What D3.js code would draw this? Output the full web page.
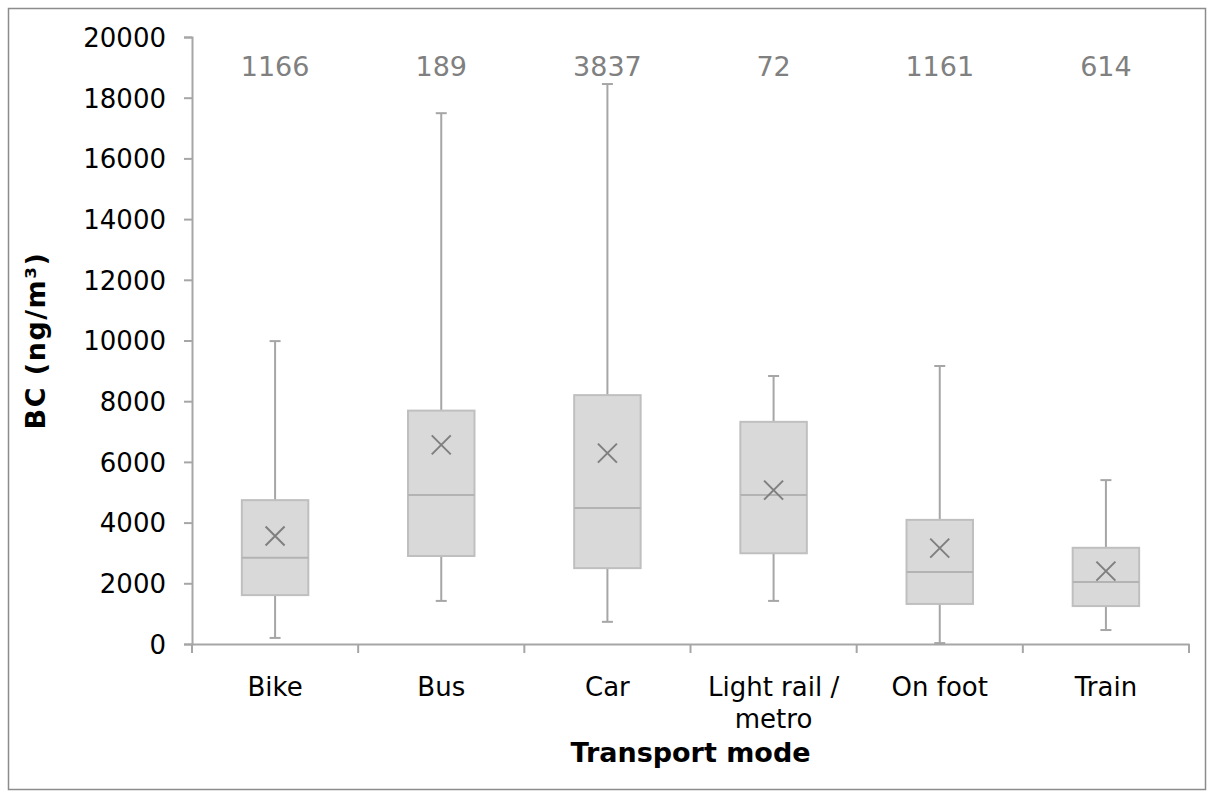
<!DOCTYPE html>
<html>
<head>
<meta charset="utf-8">
<script src="https://cdn.jsdelivr.net/npm/d3@7"></script>
<style>
  body { margin: 0; background: #fff; }
  svg text { font-family: "DejaVu Sans", Verdana, sans-serif; }
</style>
</head>
<body>
<div class="chart"></div>
<script>
var svgWidth = 1214;
var svgHeight = 796;
var margin = {top: 37, right: 25, bottom: 152, left: 192};
var width = svgWidth - margin.left - margin.right;
var height = svgHeight - margin.top - margin.bottom;

// data
var modes = ["Bike", "Bus", "Car", "Light rail / metro", "On foot", "Train"];
var counts = [1166, 189, 3837, 72, 1161, 614];
var whiskerLow = [200, 1420, 730, 1420, 30, 460];
var q1 = [1610, 2900, 2500, 2990, 1320, 1250];
var medians = [2840, 4910, 4480, 4910, 2370, 2040];
var q3 = [4740, 7690, 8200, 7320, 4090, 3170];
var whiskerHigh = [9980, 17490, 18450, 8830, 9160, 5400];
var means = [3560, 6560, 6290, 5070, 3160, 2400];
var yTicks = [0, 2000, 4000, 6000, 8000, 10000, 12000, 14000, 16000, 18000, 20000];

var boxes = modes.map(function(m, i) {
    return {mode: m, n: counts[i], lo: whiskerLow[i], q1: q1[i], med: medians[i],
            q3: q3[i], hi: whiskerHigh[i], mean: means[i]};
});

var svg = d3.select(".chart")
    .append("svg")
    .attr("width", svgWidth)
    .attr("height", svgHeight);

// outer frame
svg.append("rect")
    .attr("x", 8.5).attr("y", 8.5)
    .attr("width", 1197).attr("height", 781)
    .attr("fill", "none")
    .attr("stroke", "#8c8c8c")
    .attr("stroke-width", 1.5);

var chartGroup = svg.append("g")
    .attr("transform", "translate(" + margin.left + "," + margin.top + ")");

var xScale = d3.scaleBand().domain(modes).range([0, width]);
var yScale = d3.scaleLinear().domain([0, 20000]).range([height, 0]);

var axisColor = "#a6a6a6";

// y axis
var leftAxis = d3.axisLeft(yScale).tickValues(yTicks).tickSize(8).tickPadding(18).tickFormat(d3.format("d"));
var yAxis = chartGroup.append("g").call(leftAxis);
yAxis.select(".domain").attr("stroke", axisColor).attr("stroke-width", 2);
yAxis.selectAll(".tick line").attr("stroke", axisColor).attr("stroke-width", 2);
yAxis.selectAll(".tick text")
    .attr("font-size", "26px")
    .attr("fill", "#000")
    .attr("dy", "0.36em")
    .style("font-family", "'DejaVu Sans', Verdana, sans-serif");

// x axis
var bottomAxis = d3.axisBottom(xScale).tickSize(0).tickFormat("");
var xAxis = chartGroup.append("g")
    .attr("transform", "translate(0," + height + ")")
    .call(bottomAxis);
xAxis.select(".domain").attr("stroke", axisColor).attr("stroke-width", 2);

// category boundary ticks
var bounds = modes.map(function(m) { return xScale(m); }).concat([width]);
chartGroup.selectAll(".xtick")
    .data(bounds)
    .enter().append("line")
    .attr("class", "xtick")
    .attr("x1", function(d) { return d; })
    .attr("x2", function(d) { return d; })
    .attr("y1", height)
    .attr("y2", height + 9)
    .attr("stroke", axisColor)
    .attr("stroke-width", 2);

// category labels
var catLabels = chartGroup.selectAll(".cat")
    .data(modes)
    .enter().append("text")
    .attr("class", "cat")
    .attr("x", function(d) { return xScale(d) + xScale.bandwidth() / 2; })
    .attr("y", height + 52)
    .attr("text-anchor", "middle")
    .attr("font-size", "26px")
    .attr("fill", "#000");
catLabels.each(function(d) {
    var parts = d === "Light rail / metro" ? ["Light rail /", "metro"] : [d];
    var t = d3.select(this);
    parts.forEach(function(p, i) {
        t.append("tspan")
            .attr("x", xScale(d) + xScale.bandwidth() / 2)
            .attr("dy", i === 0 ? 0 : 32)
            .text(p);
    });
});

var boxW = xScale.bandwidth() * 0.4;
var capW = 11;

var g = chartGroup.selectAll(".box")
    .data(boxes)
    .enter().append("g")
    .attr("class", "box")
    .attr("transform", function(d) { return "translate(" + (xScale(d.mode) + xScale.bandwidth() / 2) + ",0)"; });

// whiskers
g.append("line")
    .attr("x1", 0).attr("x2", 0)
    .attr("y1", function(d) { return yScale(d.q3); })
    .attr("y2", function(d) { return yScale(d.hi); })
    .attr("stroke", axisColor).attr("stroke-width", 2);
g.append("line")
    .attr("x1", 0).attr("x2", 0)
    .attr("y1", function(d) { return yScale(d.q1); })
    .attr("y2", function(d) { return yScale(d.lo); })
    .attr("stroke", axisColor).attr("stroke-width", 2);
g.append("line")
    .attr("x1", -capW / 2).attr("x2", capW / 2)
    .attr("y1", function(d) { return yScale(d.hi); })
    .attr("y2", function(d) { return yScale(d.hi); })
    .attr("stroke", axisColor).attr("stroke-width", 2);
g.append("line")
    .attr("x1", -capW / 2).attr("x2", capW / 2)
    .attr("y1", function(d) { return yScale(d.lo); })
    .attr("y2", function(d) { return yScale(d.lo); })
    .attr("stroke", axisColor).attr("stroke-width", 2);

// boxes
g.append("rect")
    .attr("x", -boxW / 2)
    .attr("width", boxW)
    .attr("y", function(d) { return yScale(d.q3); })
    .attr("height", function(d) { return yScale(d.q1) - yScale(d.q3); })
    .attr("fill", "#d9d9d9")
    .attr("stroke", "#bfbfbf")
    .attr("stroke-width", 2);

// median
g.append("line")
    .attr("x1", -boxW / 2).attr("x2", boxW / 2)
    .attr("y1", function(d) { return yScale(d.med); })
    .attr("y2", function(d) { return yScale(d.med); })
    .attr("stroke", "#b3b3b3").attr("stroke-width", 2);

// mean marker
var xs = 9.5;
g.append("path")
    .attr("d", function(d) {
        var cy = yScale(d.mean);
        return "M" + (-xs) + "," + (cy - xs) + "L" + xs + "," + (cy + xs) +
               "M" + xs + "," + (cy - xs) + "L" + (-xs) + "," + (cy + xs);
    })
    .attr("stroke", "#7f7f7f")
    .attr("stroke-width", 2)
    .attr("fill", "none");

// sample counts
g.append("text")
    .attr("x", 0)
    .attr("y", 39)
    .attr("text-anchor", "middle")
    .attr("font-size", "27px")
    .attr("fill", "#808080")
    .text(function(d) { return d.n; });

// axis titles
chartGroup.append("text")
    .attr("transform", "rotate(-90)")
    .attr("x", 0 - height / 2)
    .attr("y", 0 - margin.left + 45)
    .attr("text-anchor", "middle")
    .attr("font-size", "27px")
    .attr("font-weight", "bold")
    .attr("letter-spacing", "1.5px")
    .text("BC (ng/m³)");

chartGroup.append("text")
    .attr("x", width / 2)
    .attr("y", height + 118)
    .attr("text-anchor", "middle")
    .attr("font-size", "27px")
    .attr("font-weight", "bold")
    .text("Transport mode");
</script>
</body>
</html>
